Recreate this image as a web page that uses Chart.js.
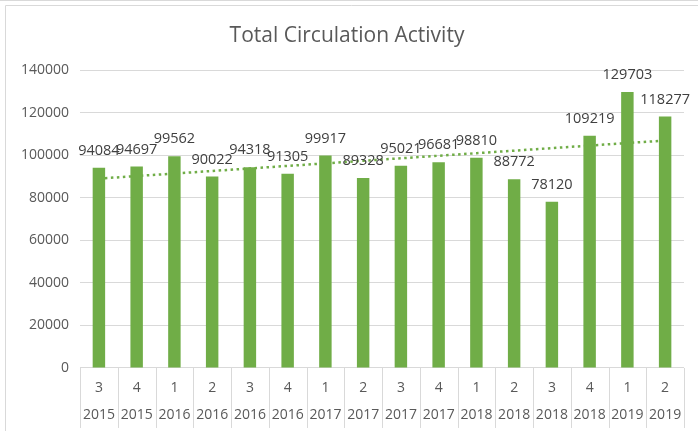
<!DOCTYPE html>
<html>
<head>
<meta charset="utf-8">
<script src="https://cdn.jsdelivr.net/npm/chart.js@4/dist/chart.umd.min.js"></script>
<style>
  html, body { margin: 0; padding: 0; background: #fff; }
  #wrap { width: 698px; height: 431px; position: relative; }
</style>
</head>
<body>
<div id="wrap"><canvas id="chart"></canvas></div>
<script>
const quarters = ['3', '4', '1', '2', '3', '4', '1', '2', '3', '4', '1', '2', '3', '4', '1', '2'];
const years = ['2015', '2015', '2016', '2016', '2016', '2016', '2017', '2017', '2017', '2017', '2018', '2018', '2018', '2018', '2019', '2019'];
const circulation = [94084, 94697, 99562, 90022, 94318, 91305, 99917, 89328, 95021, 96681, 98810, 88772, 78120, 109219, 129703, 118277];
const yTicks = [0, 20000, 40000, 60000, 80000, 100000, 120000, 140000];

const GREEN = '#70ad47';
const FONT = '"Open Sans", "Noto Sans", sans-serif';

// linear trendline (least squares), like Excel's
function linearTrend(values) {
    const n = values.length;
    let sx = 0, sy = 0, sxx = 0, sxy = 0;
    values.forEach(function (y, i) {
        const x = i + 1;
        sx += x; sy += y; sxx += x * x; sxy += x * y;
    });
    const slope = (n * sxy - sx * sy) / (n * sxx - sx * sx);
    const icpt = (sy - slope * sx) / n;
    return values.map(function (_, i) { return icpt + slope * (i + 1); });
}

const labels = quarters.map(function (q, i) { return [q, years[i]]; });

const frame = {
    id: 'frame',
    beforeDraw(chart) {
        const c = chart.ctx;
        c.save();
        c.strokeStyle = '#d9d9d9';
        c.lineWidth = 1;
        c.beginPath();
        c.moveTo(0, 0.5); c.lineTo(chart.width, 0.5);
        c.moveTo(5.5, chart.height); c.lineTo(5.5, 5.5); c.lineTo(chart.width, 5.5);
        c.stroke();
        c.restore();
    },
    afterDraw(chart) {
        // category separators in the axis label band
        const x = chart.scales.x;
        const c = chart.ctx;
        const step = x.width / labels.length;
        c.save();
        c.strokeStyle = '#d9d9d9';
        c.lineWidth = 1;
        c.beginPath();
        for (let i = 0; i <= labels.length; i++) {
            const px = Math.round(x.left + i * step) + 0.5;
            c.moveTo(px, x.top);
            c.lineTo(px, x.top + 60);
        }
        c.stroke();
        c.restore();
    }
};

const barLabels = {
    id: 'barLabels',
    afterDatasetsDraw(chart) {
        const meta = chart.getDatasetMeta(0);
        const c = chart.ctx;
        c.save();
        c.font = '14.5px ' + FONT;
        c.fillStyle = '#404040';
        c.textAlign = 'center';
        c.textBaseline = 'middle';
        meta.data.forEach(function (bar, i) {
            c.fillText(String(circulation[i]), bar.x, bar.y - 17);
        });
        c.restore();
    }
};

new Chart(document.getElementById('chart'), {
    type: 'bar',
    data: {
        labels: labels,
        datasets: [
            {
                label: 'Total Circulation',
                data: circulation,
                backgroundColor: GREEN,
                categoryPercentage: 1,
                barPercentage: 0.33,
                order: 1
            },
            {
                type: 'line',
                label: 'Linear trend',
                data: linearTrend(circulation),
                borderColor: GREEN,
                borderWidth: 2.5,
                borderDash: [2.5, 3.5],
                pointRadius: 0,
                fill: false,
                order: 2
            }
        ]
    },
    options: {
        responsive: true,
        maintainAspectRatio: false,
        animation: false,
        layout: { padding: { left: 10, right: 14, top: 0, bottom: -5 } },
        plugins: {
            legend: { display: false },
            tooltip: { enabled: false },
            title: {
                display: true,
                text: 'Total Circulation Activity',
                color: '#595959',
                font: { family: FONT, size: 21, weight: 'normal' },
                padding: { top: 23, bottom: 22 }
            }
        },
        scales: {
            y: {
                min: 0,
                max: 140000,
                afterBuildTicks: function (axis) { axis.ticks = yTicks.map(function (v) { return { value: v }; }); },
                ticks: {
                    color: '#595959',
                    font: { family: FONT, size: 14 },
                    padding: 11,
                    callback: function (value) { return String(value); }
                },
                grid: { color: '#d9d9d9', drawTicks: false },
                border: { display: false }
            },
            x: {
                ticks: {
                    color: '#595959',
                    font: { family: FONT, size: 14, lineHeight: 1.93 },
                    padding: 7,
                    maxRotation: 0,
                    autoSkip: false
                },
                grid: { display: false, drawTicks: false },
                border: { display: false }
            }
        }
    },
    plugins: [frame, barLabels]
});
</script>
</body>
</html>
